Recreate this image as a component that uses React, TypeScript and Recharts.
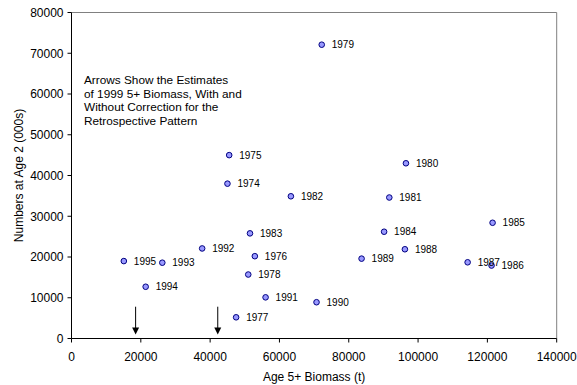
import React from 'react';
import { ScatterChart, Scatter, XAxis, YAxis, ReferenceLine, LabelList, Label } from 'recharts';

const years = [1974, 1975, 1976, 1977, 1978, 1979, 1980, 1981, 1982, 1983, 1984, 1985, 1986, 1987, 1988, 1989, 1990, 1991, 1992, 1993, 1994, 1995];
const biomass = [45000, 45500, 52900, 47500, 51000, 72200, 96500, 91700, 63300, 51500, 90200, 121500, 121200, 114300, 96200, 83700, 70700, 56000, 37700, 26200, 21400, 15100];
const recruits = [38000, 45000, 20200, 5200, 15700, 72100, 43000, 34600, 34900, 25800, 26200, 28400, 17900, 18700, 21900, 19600, 8900, 10100, 22100, 18600, 12700, 19000];

const xTicks = [0, 20000, 40000, 60000, 80000, 100000, 120000, 140000];
const yTicks = [0, 10000, 20000, 30000, 40000, 50000, 60000, 70000, 80000];

const arrowX = [18500, 42200];
const arrowTop = 7800;
const arrowBottom = 1000;

const noteLines = [
  'Arrows Show the Estimates',
  'of 1999 5+ Biomass, With and',
  'Without Correction for the',
  'Retrospective Pattern',
];

const xTitle = 'Age 5+ Biomass (t)';
const yTitle = 'Numbers at Age 2 (000s)';

const data = years.map((year, i) => ({ year, x: biomass[i], y: recruits[i] }));

const FONT = '"Liberation Sans", Arial, sans-serif';

const Dot = (p: any) => (
  <circle cx={p.cx} cy={p.cy} r={2.8} fill="#9999FF" stroke="#000080" strokeWidth={1} />
);

const Arrow = (p: any) => {
  const { x1, y1, x2, y2 } = p;
  return (
    <g>
      <line x1={x1} y1={y1} x2={x2} y2={y2 - 6} stroke="#000" strokeWidth={1} />
      <polygon points={`${x2 - 3.5},${y2 - 7} ${x2 + 3.5},${y2 - 7} ${x2},${y2}`} fill="#000" />
    </g>
  );
};

export default function App() {
  return (
    <div style={{ position: 'absolute', left: 0, top: 0, width: 577, height: 385, background: '#fff' }}>
      <ScatterChart width={577} height={385} margin={{ top: 12.5, right: 20.3, left: 0, bottom: 0 }} style={{ fontFamily: FONT }}>
        <XAxis
          type="number"
          dataKey="x"
          domain={[0, 140000]}
          ticks={xTicks}
          interval={0}
          height={46.5}
          tickSize={4}
          tickMargin={10}
          axisLine={{ stroke: '#000' }}
          tickLine={{ stroke: '#000' }}
          tick={{ fill: '#000', fontSize: 12, fontFamily: FONT }}
        >
          <Label value={xTitle} position="insideBottom" offset={4} style={{ fill: '#000', fontSize: 12, fontFamily: FONT }} />
        </XAxis>
        <YAxis
          type="number"
          dataKey="y"
          domain={[0, 80000]}
          ticks={yTicks}
          interval={0}
          width={71.5}
          tickSize={4}
          tickMargin={4}
          axisLine={{ stroke: '#000' }}
          tickLine={{ stroke: '#000' }}
          tick={{ fill: '#000', fontSize: 12, fontFamily: FONT }}
        >
          <Label value={yTitle} angle={-90} position="insideLeft" offset={19} style={{ fill: '#000', fontSize: 12, fontFamily: FONT, textAnchor: 'middle' }} />
        </YAxis>
        <ReferenceLine y={80000} stroke="#808080" strokeWidth={1} />
        <ReferenceLine x={140000} stroke="#808080" strokeWidth={1} />
        {arrowX.map((ax) => (
          <ReferenceLine
            key={ax}
            segment={[{ x: ax, y: arrowTop }, { x: ax, y: arrowBottom }]}
            shape={Arrow}
            ifOverflow="visible"
          />
        ))}
        <Scatter data={data} shape={Dot} isAnimationActive={false}>
          <LabelList dataKey="year" position="right" offset={5.5} style={{ fill: '#000', fontSize: 10, fontFamily: FONT }} />
        </Scatter>
      </ScatterChart>
      <div
        style={{
          position: 'absolute',
          left: 84,
          top: 74,
          fontFamily: FONT,
          fontSize: 11.8,
          lineHeight: '13.5px',
          color: '#000',
          whiteSpace: 'pre',
        }}
      >
        {noteLines.join('\n')}
      </div>
    </div>
  );
}
